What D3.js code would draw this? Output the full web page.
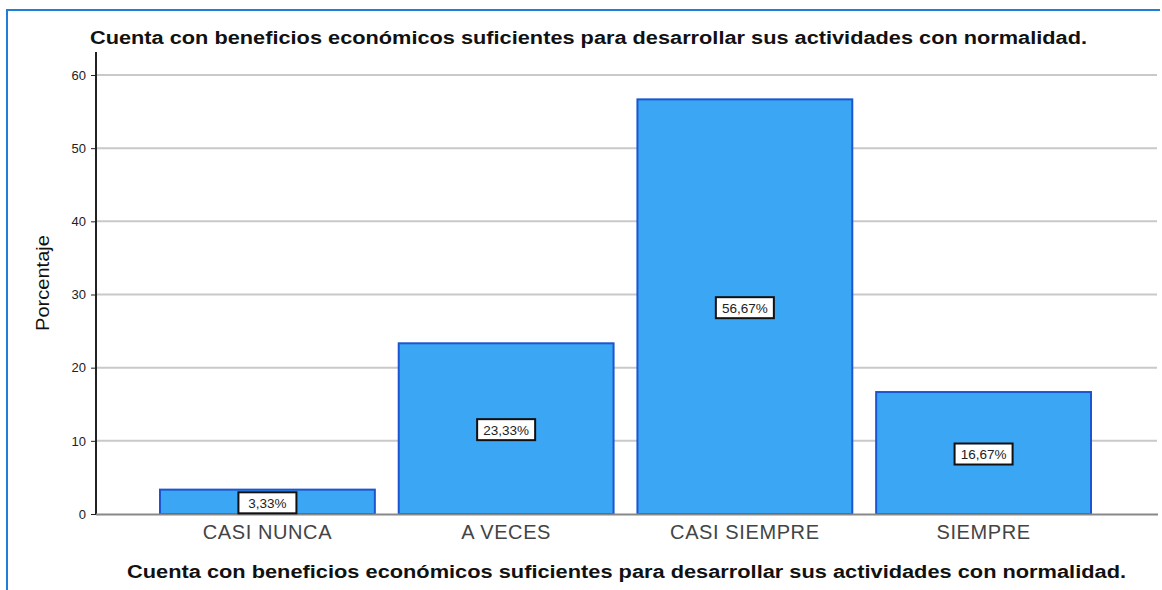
<!DOCTYPE html>
<html>
<head>
<meta charset="utf-8">
<script src="https://cdn.jsdelivr.net/npm/d3@7"></script>
<style>
  body { margin: 0; background: #fff; }
  text { font-family: "Liberation Sans", Arial, sans-serif; }
</style>
</head>
<body>
<div id="chart"></div>
<script>
// data
var categories = ["CASI NUNCA", "A VECES", "CASI SIEMPRE", "SIEMPRE"];
var percentages = [3.33, 23.33, 56.67, 16.67];
var valueLabels = ["3,33%", "23,33%", "56,67%", "16,67%"];
var yTicks = [0, 10, 20, 30, 40, 50, 60];
var chartTitle = "Cuenta con beneficios económicos suficientes para desarrollar sus actividades con normalidad.";
var yTitle = "Porcentaje";

var width = 1162, height = 590;
var svg = d3.select("#chart").append("svg").attr("width", width).attr("height", height);

// outer blue frame
svg.append("path")
  .attr("d", "M7,600 L7,10 L1160,10")
  .attr("fill", "none").attr("stroke", "#1f7fd6").attr("stroke-width", 2);

var plotLeft = 96, plotRight = 1157;
var y = d3.scaleLinear().domain([0, 60]).range([514, 75]);
var x = d3.scaleBand().domain(categories).range([160, 1091]).paddingInner(0.1).paddingOuter(0);

// gridlines
svg.append("g").selectAll("line").data(yTicks.filter(function (d) { return d > 0; }))
  .enter().append("line")
  .attr("x1", plotLeft).attr("x2", plotRight)
  .attr("y1", function (d) { return y(d); }).attr("y2", function (d) { return y(d); })
  .attr("stroke", "#c9c9c9").attr("stroke-width", 2);

// y axis
var yAxis = svg.append("g").attr("transform", "translate(" + plotLeft + ",0)")
  .call(d3.axisLeft(y).tickValues(yTicks).tickSize(5).tickPadding(5));
yAxis.select(".domain").remove();
yAxis.selectAll(".tick line").attr("stroke", "#222").attr("stroke-width", 1);
yAxis.selectAll(".tick text").attr("font-size", 13).attr("fill", "#222")
  .attr("font-family", "Liberation Sans, Arial, sans-serif");
svg.append("line").attr("x1", plotLeft).attr("x2", plotLeft).attr("y1", 52).attr("y2", 515)
  .attr("stroke", "#222").attr("stroke-width", 2);

// bars
svg.append("g").selectAll("rect").data(percentages).enter().append("rect")
  .attr("x", function (d, i) { return x(categories[i]); })
  .attr("width", x.bandwidth())
  .attr("y", function (d) { return y(d); })
  .attr("height", function (d) { return y(0) - y(d); })
  .attr("fill", "#3ba6f3").attr("stroke", "#1b55cf").attr("stroke-width", 2);

// x axis line
svg.append("line").attr("x1", plotLeft).attr("x2", plotRight + 1).attr("y1", 514.5).attr("y2", 514.5)
  .attr("stroke", "#888").attr("stroke-width", 2);

// value labels
var lab = svg.append("g").selectAll("g").data(percentages).enter().append("g")
  .attr("transform", function (d, i) {
    return "translate(" + (x(categories[i]) + x.bandwidth() / 2) + "," + (y(d / 2) + 1) + ")";
  });
lab.append("rect").attr("x", -29).attr("y", -10.5).attr("width", 58).attr("height", 21)
  .attr("fill", "#fff").attr("stroke", "#111").attr("stroke-width", 2);
lab.append("text").attr("text-anchor", "middle").attr("dy", "0.36em")
  .attr("font-size", 13.5).attr("fill", "#222")
  .text(function (d, i) { return valueLabels[i]; });

// category labels
svg.append("g").selectAll("text").data(categories).enter().append("text")
  .attr("x", function (d) { return x(d) + x.bandwidth() / 2; })
  .attr("y", 539).attr("text-anchor", "middle")
  .attr("font-size", 20).attr("letter-spacing", 0.6).attr("fill", "#444")
  .text(function (d) { return d; });

// titles
svg.append("text").attr("x", 90).attr("y", 44)
  .attr("font-size", 18).attr("font-weight", "bold").attr("fill", "#111")
  .attr("textLength", 997).attr("lengthAdjust", "spacingAndGlyphs")
  .text(chartTitle);
svg.append("text").attr("x", 127).attr("y", 578)
  .attr("font-size", 18).attr("font-weight", "bold").attr("fill", "#111")
  .attr("textLength", 999).attr("lengthAdjust", "spacingAndGlyphs")
  .text(chartTitle);
svg.append("text")
  .attr("transform", "translate(49,283) rotate(-90)")
  .attr("text-anchor", "middle")
  .attr("font-size", 19).attr("fill", "#111")
  .attr("textLength", 96).attr("lengthAdjust", "spacingAndGlyphs")
  .text(yTitle);
</script>
</body>
</html>
